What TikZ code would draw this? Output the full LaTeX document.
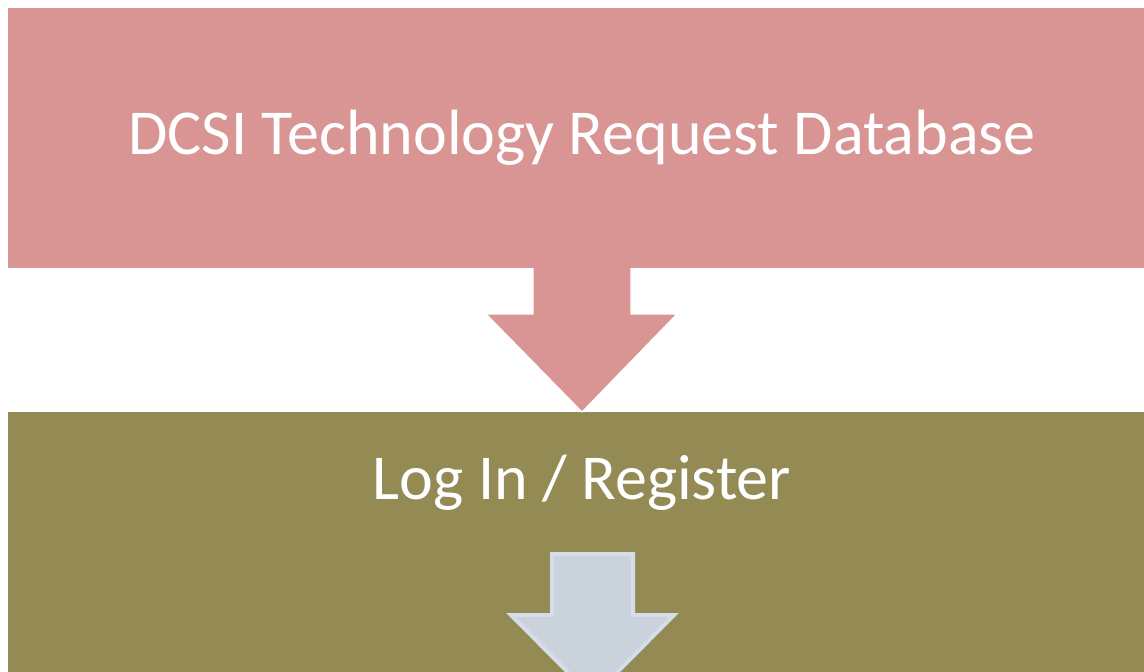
\documentclass[tikz,border=0pt]{standalone}
\usepackage{fontspec}
\setmainfont{Carlito}
\definecolor{dbpink}{HTML}{D99594}
\definecolor{logolive}{HTML}{948A54}
\definecolor{nextfill}{HTML}{CAD2DB}
\definecolor{nextedge}{HTML}{D5DDEA}
\begin{document}
\begin{tikzpicture}[x=1pt,y=-1pt,
  band/.style={anchor=north west,inner sep=0pt,outer sep=0pt,minimum width=1148pt},
  bandtext/.style={text=white,font=\fontsize{64}{72}\selectfont}]
\useasboundingbox (0,0) rectangle (1144,672);
\clip (0,0) rectangle (1144,672);
\fill[white] (0,0) rectangle (1144,672);
%bands
\node[band,fill=dbpink,minimum height=260pt,bandtext](db) at (8,8){DCSI Technology Request Database};
\node[band,fill=logolive,minimum height=300pt](band2) at (8,412){};
\node[bandtext](login) at (582,483){Log In / Register};
%arrow db -> login
\fill[dbpink](db.south)++(-49,0)--++(0,46)--++(-47,0)--(band2.north-|db.south)--++(95,-98)--++(-46,0)--++(0,-46)--cycle;
\draw[white,line width=1.2pt,line join=round](db.south)++(-49,0)--++(0,46)--++(-47,0)--(band2.north-|db.south)--++(95,-98)--++(-46,0)--++(0,-46);
%next arrow
\filldraw[fill=nextfill,draw=nextedge,line width=4pt,line join=miter]
  (552,554)--(633,554)--(633,615)--(674,615)--(592.5,697)--(511,615)--(552,615)--cycle;
\end{tikzpicture}
\end{document}
